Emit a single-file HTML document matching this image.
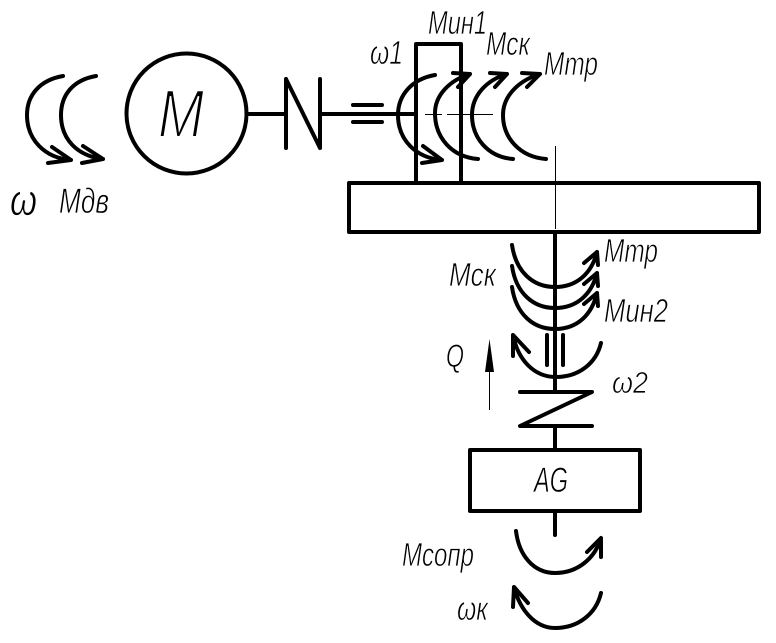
<!DOCTYPE html>
<html>
<head>
<meta charset="utf-8">
<style>
html,body{margin:0;padding:0;background:#fff;width:776px;height:643px;overflow:hidden}
svg{display:block}
.l{fill:none;stroke:#000;stroke-width:4;stroke-linecap:round;stroke-linejoin:round}
.t{fill:none;stroke:#000;stroke-width:1}
text{font-family:"Liberation Sans",sans-serif;font-style:italic;fill:#000;stroke:#fff;stroke-width:.7}
</style>
</head>
<body>
<svg width="776" height="643" viewBox="0 0 776 643" xmlns="http://www.w3.org/2000/svg">
<g class="l">
<!-- left arcs -->
<path d="M63 76C40 80 27 95 27 115C27 140 45 158 71 160M52 147L71 160L48 163"/>
<path d="M96 76C73 80 61 95 61 115C61 140 78 156 103 159M83 146L103 159L82 163"/>
<!-- motor -->
<circle cx="186.500" cy="113.500" r="60"/>
<path d="M248 114H285M286 79V148M286 79L320 148M320 79V148M320 114H415M353 105H382M353 122H382"/>
<!-- Rectangles -->
<path d="M416 183V44H461V183"/>
<rect x="349" y="183" width="410" height="49"/>
<!-- upper arcs -->
<path d="M435 75C412 79 398 95 398 115C398 140 416 158 442 160M423 146L442 160L422 163"/>
<path d="M478 159C452 157 435 138 435 113C435 95 450 80 470 74M453 73L470 74L458 87"/>
<path d="M513 159C488 157 472 138 472 115C472 95 487 80 507 74M490 73L507 74L495 87"/>
<path d="M546 159C520 157 503 138 503 115C503 95 520 80 540 74M522 73L540 74L527 87"/>
<!-- lower shaft -->
<path d="M555 232V392M547 335V365M563 335V365"/>
<path d="M520 392H592L520 426H592M555 426V450"/>
<!-- lower arcs -->
<path d="M512 245C516 272 533 287 555 287C578 287 592 272 597 252M584 263L597 252L598 265"/>
<path d="M512 266C516 293 533 308 555 308C578 308 592 293 597 273M584 284L597 273L598 286"/>
<path d="M512 287C516 314 533 329 555 329C578 329 592 314 597 293M584 304L597 293L598 306"/>
<path d="M601 343C596 364 578 377 556 377C534 377 518 360 513 335M513 356L513 335L529 352"/>
<!-- AG -->
<rect x="470" y="450" width="170" height="61"/>
<path d="M555 511V535"/>
<path d="M516 531C519 556 534 573 555 573C578 573 595 558 601 538M587 552L601 538L601 557"/>
<path d="M601 593C596 614 578 628 555 628C535 628 520 610 514 587M513 607L514 587L528 603"/>
</g>
<g class="t">
<path d="M425 114.500H442M447 114.500H493"/>
<path d="M555.500 146V229"/>
<path d="M489.500 343V410"/>
</g>
<path d="M489.500 339L494 372H485Z" fill="#000"/>
<!-- labels -->
<text x="10" y="215" font-size="44" textLength="27" lengthAdjust="spacingAndGlyphs">ω</text>
<text x="59" y="213" font-size="35" textLength="50" lengthAdjust="spacingAndGlyphs">Мдв</text>
<text x="158" y="137" font-size="68" textLength="46" lengthAdjust="spacingAndGlyphs" style="stroke-width:2">М</text>
<text x="370" y="64" font-size="33" textLength="33" lengthAdjust="spacingAndGlyphs">ω1</text>
<text x="428" y="34" font-size="33" textLength="59" lengthAdjust="spacingAndGlyphs">Мин1</text>
<text x="486" y="55" font-size="33" textLength="44" lengthAdjust="spacingAndGlyphs">Мск</text>
<text x="544" y="75" font-size="33" textLength="54" lengthAdjust="spacingAndGlyphs">Мтр</text>
<text x="604" y="262" font-size="33" textLength="54" lengthAdjust="spacingAndGlyphs">Мтр</text>
<text x="449" y="286" font-size="33" textLength="47" lengthAdjust="spacingAndGlyphs">Мск</text>
<text x="604" y="322" font-size="33" textLength="64" lengthAdjust="spacingAndGlyphs">Мин2</text>
<text x="446" y="367" font-size="32" textLength="18" lengthAdjust="spacingAndGlyphs">Q</text>
<text x="612" y="393" font-size="31" textLength="36" lengthAdjust="spacingAndGlyphs">ω2</text>
<text x="534" y="492" font-size="35" textLength="34" lengthAdjust="spacingAndGlyphs">AG</text>
<text x="402" y="566" font-size="33" textLength="72" lengthAdjust="spacingAndGlyphs">Мсопр</text>
<text x="457" y="620" font-size="33" textLength="31" lengthAdjust="spacingAndGlyphs">ωк</text>
</svg>
</body>
</html>
